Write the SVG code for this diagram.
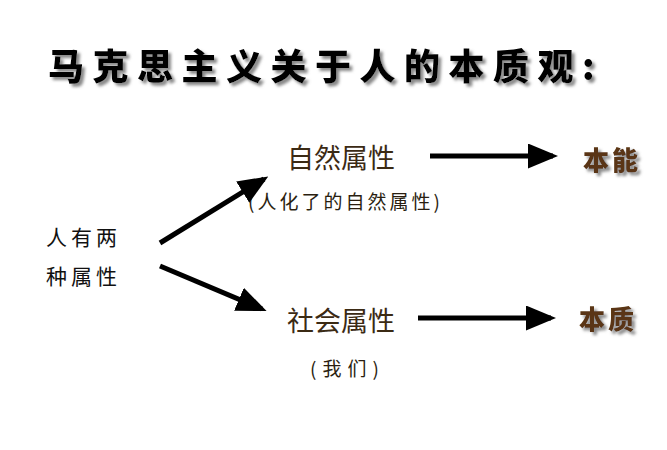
<svg xmlns="http://www.w3.org/2000/svg" width="667" height="450" viewBox="0 0 667 450">
<style>
.t{font-family:"Noto Sans CJK SC","Liberation Sans",sans-serif}
.title{font-size:36px;font-weight:900;letter-spacing:8.5px}
.m{font-size:27px;fill:#3b2a14}
.s{font-size:19px;fill:#2a1e10;letter-spacing:3px}
.l{font-size:21px;fill:#111;letter-spacing:4px}
.r{font-size:26px;font-weight:900;fill:#5a3512;letter-spacing:3px}
.c line{stroke:#000;stroke-width:5;marker-end:url(#a)}
</style>
<defs>
<marker id="a" markerWidth="6" markerHeight="5" refX="5" refY="2.5" orient="auto"><path d="M0,0L6,2.5L0,5z" fill="#000"/></marker>
<filter id="sh"><feDropShadow dx="3" dy="3" stdDeviation="1.5" flood-color="#888"/></filter>
</defs>
<rect width="667" height="450" fill="#fff"/>
<g id="title"><text class="t title" x="48" y="80" filter="url(#sh)">马克思主义关于人的本质观:</text></g>
<g id="n-person"><text class="t l" x="46" y="245">人有两</text><text class="t l" x="46" y="284">种属性</text></g>
<g id="n-natural"><text class="t m" x="287" y="168">自然属性</text><text class="t s" x="248" y="209">(人化了的自然属性)</text></g>
<g id="n-social"><text class="t m" x="287" y="331">社会属性</text><text class="t s" x="310" y="376" style="letter-spacing:6px">(我们)</text></g>
<g id="n-instinct"><text class="t r" x="583" y="170" filter="url(#sh)">本能</text></g>
<g id="n-essence"><text class="t r" x="579" y="329" filter="url(#sh)">本质</text></g>
<g class="c" id="connectors">
<line x1="160" y1="243" x2="264" y2="179"/>
<line x1="160" y1="266" x2="262" y2="309"/>
<line x1="430" y1="156" x2="553" y2="156"/>
<line x1="418" y1="318" x2="551" y2="318"/>
</g>
</svg>
